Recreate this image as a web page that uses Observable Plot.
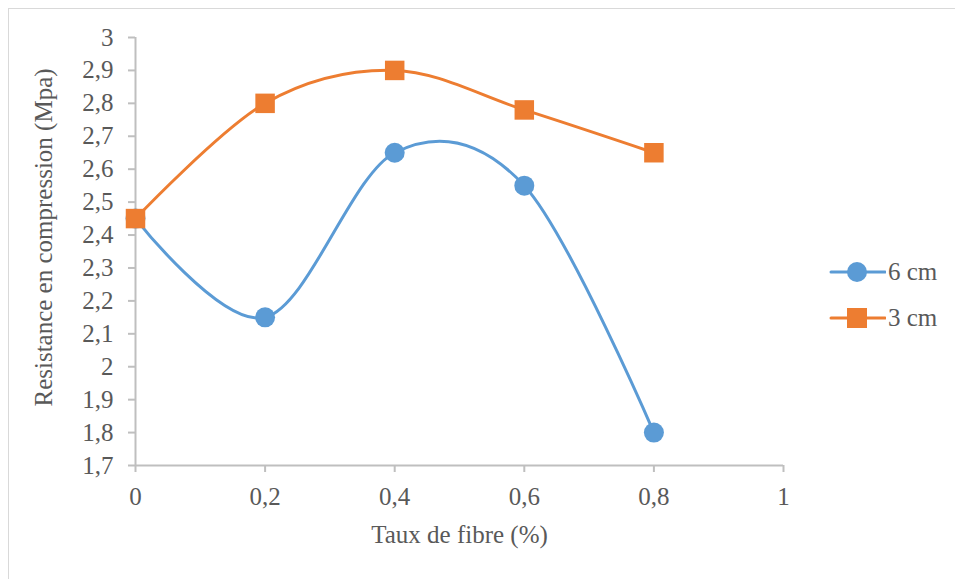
<!DOCTYPE html>
<html>
<head>
<meta charset="utf-8">
<script src="https://cdn.jsdelivr.net/npm/d3@7"></script>
<script src="https://cdn.jsdelivr.net/npm/@observablehq/plot@0.6"></script>
<style>
  html, body { margin: 0; padding: 0; background: #fff; }
  #wrap { position: relative; width: 955px; height: 579px; overflow: hidden; font-family: "Liberation Serif", "Times New Roman", serif; }
  #frame { position: absolute; left: 8px; top: 8px; width: 960px; height: 600px; border: 1px solid #d9d9d9; box-sizing: border-box; }
  #chart { position: absolute; left: 0; top: 0; }
  #legend { position: absolute; left: 829px; top: 258px; color: #595959; font-size: 25px; line-height: 28px; }
  .item { display: flex; align-items: center; height: 28px; margin-bottom: 18px; }
  .item svg { margin-right: 2px; }
</style>
</head>
<body>
<div id="wrap">
  <div id="frame"></div>
  <div id="chart"></div>
  <div id="legend"></div>
</div>
<script>
const xValues = [0, 0.2, 0.4, 0.6, 0.8];
const series6cm = [2.45, 2.15, 2.65, 2.55, 1.8];
const series3cm = [2.45, 2.8, 2.9, 2.78, 2.65];
const seriesNames = ["6 cm", "3 cm"];
const colors = ["#5B9BD5", "#ED7D31"];
const xTicks = [0, 0.2, 0.4, 0.6, 0.8, 1];
const yTicks = [1.7, 1.8, 1.9, 2.0, 2.1, 2.2, 2.3, 2.4, 2.5, 2.6, 2.7, 2.8, 2.9, 3.0];

const d6 = xValues.map((x, i) => ({x, y: series6cm[i]}));
const d3cm = xValues.map((x, i) => ({x, y: series3cm[i]}));
const fmt = v => String(+v.toFixed(1)).replace(".", ",");

const chart = Plot.plot({
  width: 955,
  height: 579,
  marginLeft: 135,
  marginRight: 172,
  marginTop: 37,
  marginBottom: 114,
  style: { fontFamily: "Liberation Serif, Times New Roman, serif", fontSize: "25px", color: "#595959", background: "transparent", overflow: "visible" },
  x: { domain: [0, 1], label: null },
  y: { domain: [1.7, 3], label: null },
  marks: [
    Plot.ruleY([1.7], { stroke: "#bfbfbf", strokeWidth: 2 }),
    Plot.ruleX([0], { stroke: "#bfbfbf", strokeWidth: 2 }),
    Plot.axisX({ ticks: xTicks, tickFormat: fmt, tickSize: 7, tickPadding: 15, stroke: "#bfbfbf", fill: "#595959", strokeWidth: 2, strokeOpacity: 1, fontSize: 25, label: null }),
    Plot.axisY({ ticks: yTicks, tickFormat: fmt, tickSize: 7, tickPadding: 15, stroke: "#bfbfbf", fill: "#595959", strokeWidth: 2, strokeOpacity: 1, fontSize: 25, label: null }),
    Plot.line(d3cm, { x: "x", y: "y", stroke: colors[1], strokeWidth: 3, curve: "cardinal", tension: 0 }),
    Plot.line(d6, { x: "x", y: "y", stroke: colors[0], strokeWidth: 3, curve: "cardinal", tension: 0 }),
    Plot.dot(d6, { x: "x", y: "y", r: 10, fill: colors[0], symbol: "circle" }),
    Plot.dot(d3cm, { x: "x", y: "y", r: 11, fill: colors[1], symbol: "square" }),
    Plot.text(["Taux de fibre (%)"], { frameAnchor: "bottom", dy: 77, fontSize: 25, fill: "#595959" }),
    Plot.text(["Resistance en compression (Mpa)"], { frameAnchor: "left", textAnchor: "middle", dx: -92, dy: -14, rotate: -90, fontSize: 25, fill: "#595959" })
  ]
});
document.getElementById("chart").appendChild(chart);

const legend = document.getElementById("legend");
seriesNames.forEach((name, i) => {
  const item = document.createElement("div");
  item.className = "item";
  const shape = i === 0
    ? `<circle cx="28" cy="14" r="10" fill="${colors[i]}"/>`
    : `<rect x="18" y="4" width="20" height="20" fill="${colors[i]}"/>`;
  item.innerHTML = `<svg width="57" height="28"><line x1="2" x2="56" y1="14" y2="14" stroke="${colors[i]}" stroke-width="3" stroke-linecap="round"/>${shape}</svg><span>${name}</span>`;
  legend.appendChild(item);
});
</script>
</body>
</html>
